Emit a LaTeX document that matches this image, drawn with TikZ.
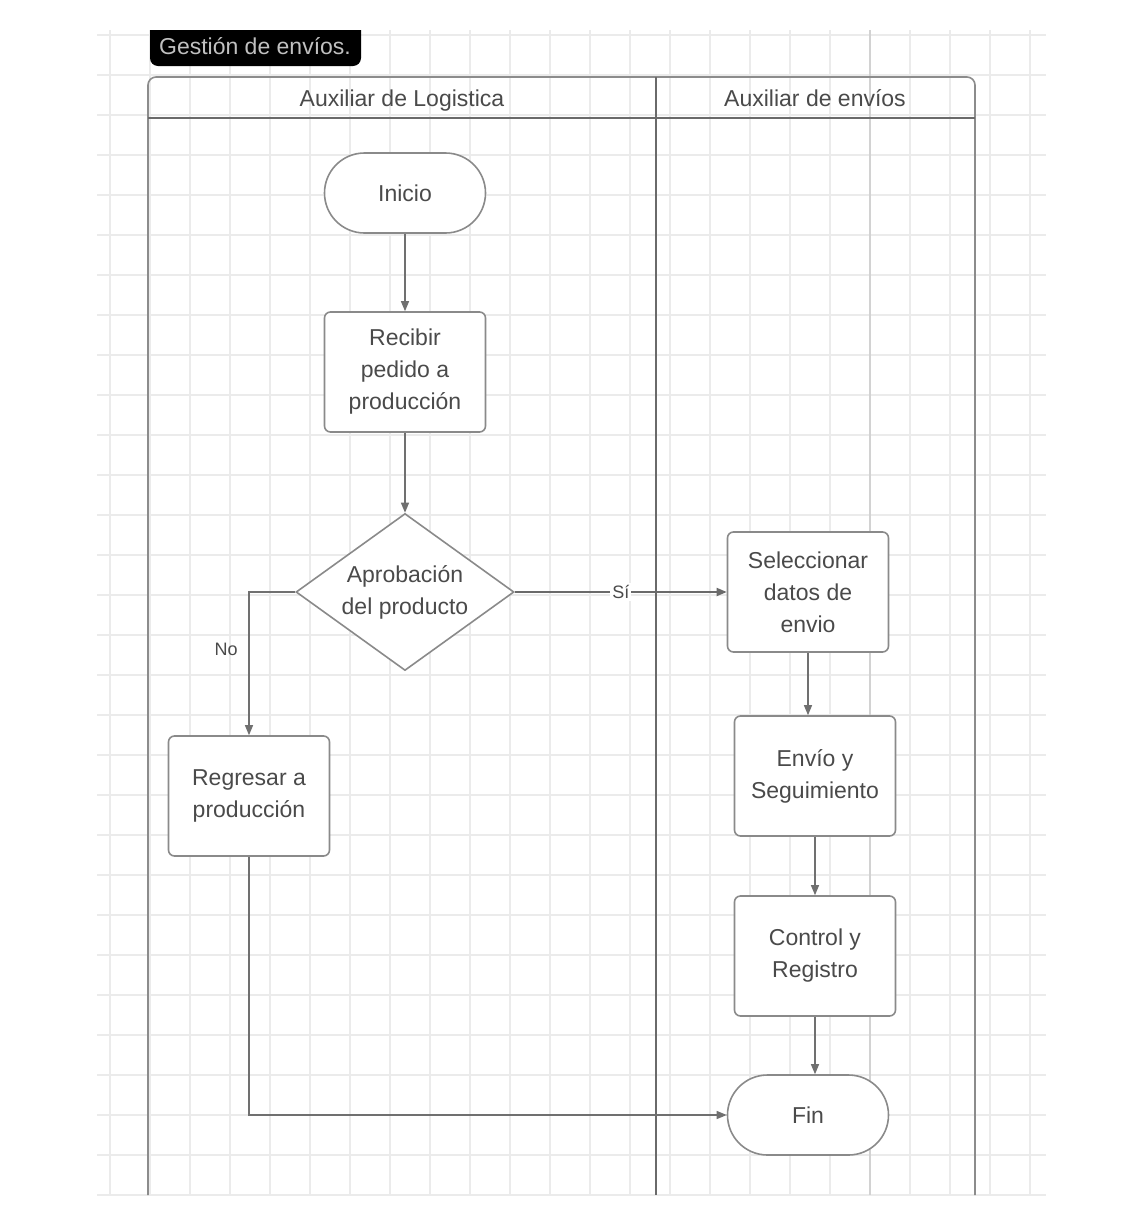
\documentclass[tikz,border=0pt]{standalone}
\usepackage{fontspec}
\setmainfont{Liberation Sans}
\usetikzlibrary{shapes.geometric,arrows.meta}

\definecolor{gridgray}{HTML}{EBEBEB}
\definecolor{majorgray}{HTML}{D2D2D2}
\definecolor{lanegray}{HTML}{8C8C8C}
\definecolor{headgray}{HTML}{6A6A6A}
\definecolor{linegray}{HTML}{8A8A8A}
\definecolor{arrowgray}{HTML}{707070}
\definecolor{txtgray}{HTML}{4A4A4A}
\definecolor{tabtxt}{HTML}{C0C0C0}

\begin{document}
\begin{tikzpicture}[x=0.5pt,y=-0.5pt,
    lbl/.style={font=\fontsize{11.5}{16}\selectfont, text=txtgray},
    terminal/.style={draw=linegray, line width=0.8pt, fill=white, rounded corners=20pt,
        minimum width=80.5pt, minimum height=40pt, lbl},
    process/.style={draw=linegray, line width=0.8pt, fill=white, rounded corners=3pt,
        minimum width=80.5pt, minimum height=60pt, align=center, lbl},
    decision/.style={diamond, aspect=1.39, draw=linegray, line width=0.8pt, fill=white,
        minimum width=109pt, minimum height=78.5pt, inner sep=0pt, align=center, lbl},
    flow/.style={draw=arrowgray, line width=0.6pt, -{Triangle[length=5pt,width=4pt]}},
    small/.style={font=\fontsize{9}{10}\selectfont, text=txtgray}
]

    \useasboundingbox (0,0) rectangle (1127,1205);
    \fill[white] (0,0) rectangle (1127,1205);

    % Grid
    \foreach \x in {110,150,...,1030}
        \draw[gridgray, line width=0.75pt] (\x,30) -- (\x,1195);
    \foreach \y in {35,75,...,1195}
        \draw[gridgray, line width=0.75pt] (97,\y) -- (1046,\y);
    \draw[majorgray, line width=1.4pt] (870,30) -- (870,1195);

    % Title tab
    \fill[black, rounded corners=4pt] (150,20) rectangle (361,66);
    \fill[white] (140,20) rectangle (371,30);
    \node[lbl, text=tabtxt] (title) at (255,46) {Gestión de envíos.};

    % Swimlanes
    \draw[lanegray, line width=0.8pt, rounded corners=4pt] (148,1195) -- (148,77) -- (975,77) -- (975,1195);
    \draw[headgray, line width=1.1pt] (148,118) -- (975,118);
    \draw[headgray, line width=0.8pt] (656,77) -- (656,1195);
    \node[lbl, anchor=base] (laneA) at (402,106) {Auxiliar de Logistica};
    \node[lbl, anchor=base] (laneB) at (815,106) {Auxiliar de envíos};

    % Steps
    \node[terminal] (inicio) at (405,193) {Inicio};
    \node[process] (recibir) at (405,372) {Recibir\\pedido a\\producción};
    \node[decision] (aprob) at (405,592) {Aprobación\\del producto};
    \node[process] (regresar) at (249,796) {Regresar a\\producción};
    \node[process] (selec) at (808,592) {Seleccionar\\datos de\\envio};
    \node[process] (envio) at (815,776) {Envío y\\Seguimiento};
    \node[process] (control) at (815,956) {Control y\\Registro};
    \node[terminal] (fin) at (808,1115) {Fin};

    % Connectors
    \draw[flow] (inicio) -- (recibir);
    \draw[flow] (recibir) -- (aprob);
    \draw[flow, draw=headgray, line width=0.9pt] (aprob.east) -- (selec.west)
        node[midway, small, fill=white, inner sep=1pt] {Sí};
    \draw[flow] (aprob.west) -| (regresar.north)
        node[pos=0.7, small, left=2pt] {No};
    \draw[flow] (selec.south) -- (selec.south |- envio.north);
    \draw[flow] (envio) -- (control);
    \draw[flow] (control.south) -- (control.south |- fin.north);
    \draw[flow] (regresar.south) |- (fin.west);

\end{tikzpicture}
\end{document}
